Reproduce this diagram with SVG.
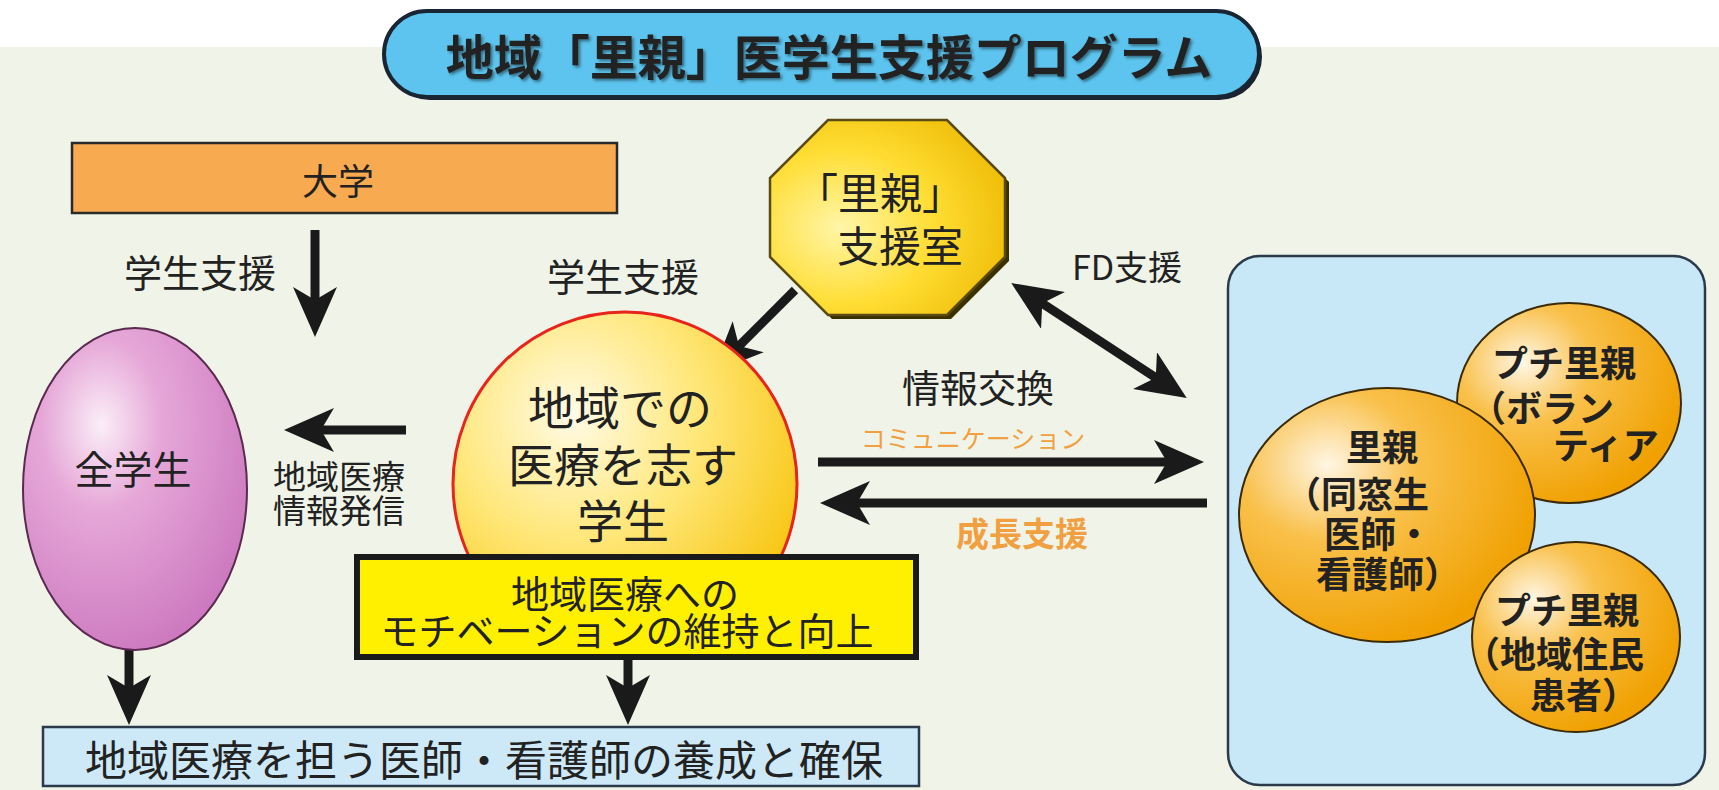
<svg xmlns="http://www.w3.org/2000/svg" width="1719" height="790" viewBox="0 0 1719 790">
<defs>
<style>
text{font-family:"Noto Sans CJK JP","Noto Sans CJK SC",sans-serif;fill:#222;text-anchor:middle;dominant-baseline:central}
.b{font-weight:bold}
.st{text-anchor:start}
.or{fill:#f0a040}
.ln{stroke:#1a1a1a;stroke-width:9;fill:none}
</style>
<radialGradient id="gPink" cx="0.35" cy="0.3" r="0.75">
<stop offset="0" stop-color="#fbeef8"/><stop offset="0.35" stop-color="#e6a8d8"/><stop offset="1" stop-color="#cc78bf"/>
</radialGradient>
<radialGradient id="gYel" cx="0.35" cy="0.3" r="0.8">
<stop offset="0" stop-color="#fffbe6"/><stop offset="0.45" stop-color="#ffe77a"/><stop offset="1" stop-color="#f6c000"/>
</radialGradient>
<radialGradient id="gOct" cx="0.3" cy="0.55" r="0.8">
<stop offset="0" stop-color="#fff6a8"/><stop offset="0.5" stop-color="#ffdd33"/><stop offset="1" stop-color="#ecb800"/>
</radialGradient>
<radialGradient id="gOr" cx="0.3" cy="0.3" r="0.75">
<stop offset="0" stop-color="#fff6e4"/><stop offset="0.4" stop-color="#f9c04a"/><stop offset="1" stop-color="#f0a000"/>
</radialGradient>
<filter id="sh" x="-5%" y="-20%" width="110%" height="140%">
<feDropShadow dx="2" dy="2" stdDeviation="1.5" flood-color="#000" flood-opacity="0.45"/>
</filter>
<marker id="ah" viewBox="0 0 50 44" markerUnits="userSpaceOnUse" markerWidth="50" markerHeight="44" refX="30" refY="22" orient="auto-start-reverse">
<path d="M0,0 L50,22 L0,44 L13,22 Z" fill="#1a1a1a"/>
</marker>
</defs>

<rect x="0" y="0" width="1719" height="790" fill="#f0f4e8"/>
<rect x="0" y="0" width="1719" height="47" fill="#ffffff"/>

<g id="title">
<rect x="387" y="14" width="875" height="86" rx="43" fill="#1a2230"/>
<rect x="384" y="11" width="875" height="86" rx="43" fill="#5cc4ee" stroke="#1a2533" stroke-width="4"/>
<text x="829" y="54" font-size="48" class="b" filter="url(#sh)">地域「里親」医学生支援プログラム</text>
</g>

<g id="connectors">
<line class="ln" x1="315" y1="230" x2="315" y2="317" marker-end="url(#ah)"/>
<line class="ln" x1="406" y1="430" x2="304" y2="430" marker-end="url(#ah)"/>
<line class="ln" x1="795" y1="290" x2="727" y2="358" marker-end="url(#ah)"/>
<line class="ln" x1="1028" y1="294" x2="1170" y2="387" marker-start="url(#ah)" marker-end="url(#ah)"/>
<line class="ln" x1="818" y1="462" x2="1184" y2="462" marker-end="url(#ah)"/>
<line class="ln" x1="1207" y1="503" x2="840" y2="503" marker-end="url(#ah)"/>
<line class="ln" x1="129" y1="648" x2="129" y2="705" marker-end="url(#ah)"/>
<line class="ln" x1="628" y1="657" x2="628" y2="705" marker-end="url(#ah)"/>
<text x="200" y="270" font-size="38">学生支援</text>
<text x="623" y="274" font-size="38">学生支援</text>
<text x="339" y="475" font-size="33">地域医療</text>
<text x="339" y="509" font-size="33">情報発信</text>
<text x="1127" y="265" font-size="34">FD支援</text>
<text x="978" y="385" font-size="38">情報交換</text>
<text x="973" y="437" font-size="25" class="or">コミュニケーション</text>
<text x="1022" y="532" font-size="33" class="or b">成長支援</text>
</g>

<g id="daigaku">
<rect x="72" y="143" width="545" height="70" fill="#f8aa50" stroke="#2a2a2a" stroke-width="2.5"/>
<text x="338" y="179" font-size="36">大学</text>
</g>

<g id="zengakusei">
<ellipse cx="135" cy="489" rx="112" ry="161" fill="url(#gPink)" stroke="#5a2a50" stroke-width="2"/>
<text x="133" y="467" font-size="39">全学生</text>
</g>

<g id="student">
<circle cx="625" cy="484" r="172" fill="url(#gYel)" stroke="#e8251c" stroke-width="3"/>
<text x="620" y="405" font-size="46">地域での</text>
<text x="623" y="462" font-size="46">医療を志す</text>
<text x="623" y="518" font-size="46">学生</text>
</g>

<g id="motivation">
<rect x="357" y="557" width="559" height="100" fill="#fff000" stroke="#1a1a1a" stroke-width="6"/>
<text x="625" y="591" font-size="38">地域医療への</text>
<text x="627" y="628" font-size="38">モチベーションの維持と向上</text>
</g>

<g id="goal">
<rect x="43" y="727" width="876" height="59" fill="#cde9f7" stroke="#2a3a4a" stroke-width="2.5"/>
<text x="484" y="757" font-size="42">地域医療を担う医師・看護師の養成と確保</text>
</g>

<g id="shienshitsu">
<polygon points="832,124 951,124 1009,182 1009,261 951,319 832,319 774,261 774,182" fill="#3a3000"/>
<polygon points="828,120 947,120 1005,178 1005,257 947,315 828,315 770,257 770,178" fill="url(#gOct)" stroke="#5a4a14" stroke-width="2.5"/>
<text x="880" y="190" font-size="42">「里親」</text>
<text x="900" y="243" font-size="42">支援室</text>
</g>

<g id="satooya-panel">
<rect x="1228" y="256" width="477" height="529" rx="32" fill="#c9e8f7" stroke="#2a3a4a" stroke-width="2.5"/>
</g>

<g id="puchi1">
<ellipse cx="1569" cy="403" rx="112" ry="100" fill="url(#gOr)" stroke="#3a2a08" stroke-width="2"/>
<text class="b st" x="1492" y="361" font-size="36">プチ里親</text>
<text class="b st" x="1470" y="406" font-size="36">（ボラン</text>
<text class="b st" x="1553" y="443" font-size="36">ティア</text>
</g>

<g id="satooya">
<ellipse cx="1387" cy="515" rx="148" ry="127" fill="url(#gOr)" stroke="#3a2a08" stroke-width="2"/>
<text class="b" x="1382" y="445" font-size="36">里親</text>
<text class="b" x="1357" y="492" font-size="36">（同窓生</text>
<text class="b" x="1378" y="532" font-size="36">医師・</text>
<text class="b" x="1388" y="572" font-size="36">看護師）</text>
</g>

<g id="puchi2">
<ellipse cx="1576" cy="637" rx="104" ry="95" fill="url(#gOr)" stroke="#3a2a08" stroke-width="2"/>
<text class="b st" x="1495" y="608" font-size="36">プチ里親</text>
<text class="b st" x="1464" y="652" font-size="36">（地域住民</text>
<text class="b st" x="1530" y="693" font-size="36">患者）</text>
</g>
</svg>
